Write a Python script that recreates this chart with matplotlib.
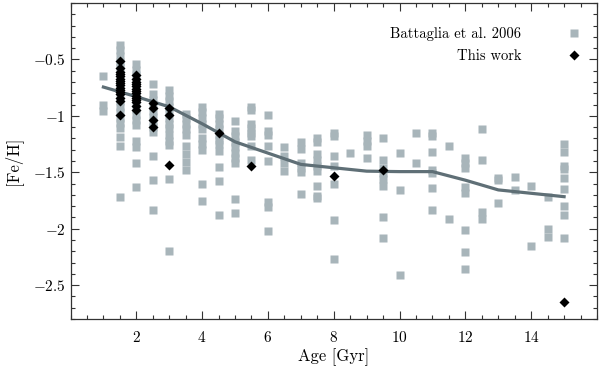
import numpy as np
import matplotlib
matplotlib.use('Agg')
import matplotlib.pyplot as plt
from matplotlib.ticker import MultipleLocator, FuncFormatter

# Battaglia et al. 2006: ages and [Fe/H] values, one list per age
b06_ages = [1.0, 1.5, 2.0, 2.5, 3.0, 3.5, 4.0, 4.5, 5.0, 5.5, 6.0, 6.5, 7.0, 7.5,
            8.0, 8.5, 9.0, 9.5, 10.0, 10.5, 11.0, 11.5, 12.0, 12.5, 13.0, 13.5,
            14.0, 14.5, 15.0]
b06_feh = [
    [-0.65, -0.90, -0.96],
    [-0.37, -0.42, -0.47, -0.52, -0.57, -0.62, -0.67, -0.72, -0.77, -0.82, -0.87,
     -0.92, -0.97, -1.02, -1.06, -1.11, -1.19, -1.27, -1.72],
    [-0.54, -0.59, -0.64, -0.69, -0.74, -0.79, -0.84, -0.89, -0.94, -0.99, -1.04,
     -1.08, -1.22, -1.28, -1.42, -1.63],
    [-0.72, -0.81, -0.86, -0.91, -0.96, -1.01, -1.06, -1.10, -1.14, -1.36, -1.57, -1.83],
    [-0.77, -0.82, -0.87, -0.92, -0.97, -1.02, -1.07, -1.11, -1.17, -1.22, -1.26,
     -1.56, -2.20],
    [-0.98, -1.02, -1.07, -1.12, -1.17, -1.27, -1.34, -1.41, -1.48],
    [-0.92, -0.97, -1.02, -1.07, -1.12, -1.20, -1.25, -1.30, -1.60, -1.75],
    [-0.98, -1.02, -1.07, -1.12, -1.17, -1.21, -1.25, -1.31, -1.45, -1.58, -1.88],
    [-1.05, -1.13, -1.18, -1.23, -1.28, -1.33, -1.37, -1.42, -1.74, -1.86],
    [-0.92, -0.95, -1.07, -1.11, -1.15, -1.18, -1.27, -1.39],
    [-0.99, -1.13, -1.17, -1.27, -1.40, -1.76, -1.81, -2.02],
    [-1.28, -1.36, -1.42, -1.49],
    [-1.23, -1.29, -1.42, -1.46, -1.50, -1.69],
    [-1.20, -1.23, -1.34, -1.39, -1.44, -1.49, -1.62, -1.71, -1.73],
    [-1.15, -1.18, -1.36, -1.44, -1.60, -1.92, -2.27],
    [-1.33],
    [-1.17, -1.22, -1.27, -1.37],
    [-1.20, -1.39, -1.46, -1.51, -1.56, -1.62, -1.90, -2.08],
    [-1.33, -1.66, -2.41],
    [-1.15, -1.42],
    [-1.15, -1.18, -1.32, -1.48, -1.51, -1.64, -1.83],
    [-1.27, -1.91],
    [-1.37, -1.42, -1.46, -1.63, -1.68, -2.01, -2.21, -2.36],
    [-1.12, -1.39, -1.85, -1.91],
    [-1.55, -1.57, -1.77],
    [-1.54, -1.66],
    [-1.62, -2.15],
    [-1.72, -2.00, -2.07],
    [-1.25, -1.32, -1.44, -1.47, -1.55, -1.65, -1.80, -1.88, -2.08],
]

# This work
tw_ages = [1.5] * 16 + [2.0] * 14 + [2.5] * 4 + [3.0] * 3 + [4.5, 5.5, 8.0, 9.5, 15.0]
tw_feh = [-0.51, -0.58, -0.61, -0.63, -0.65, -0.67, -0.69, -0.71, -0.73, -0.75,
          -0.77, -0.79, -0.81, -0.84, -0.87, -0.99,
          -0.64, -0.67, -0.70, -0.72, -0.74, -0.76, -0.78, -0.80, -0.82, -0.84,
          -0.86, -0.88, -0.91, -0.95,
          -0.89, -0.93, -1.04, -1.10,
          -0.93, -0.99, -1.435,
          -1.15, -1.44, -1.53, -1.48, -2.65]

# mean relation
mean_age = [1, 2, 3, 4, 5, 6, 7, 8, 9, 10, 11, 12, 13, 14, 15]
mean_feh = [-0.745, -0.83, -0.92, -1.07, -1.23, -1.33, -1.43, -1.46, -1.49,
            -1.494, -1.494, -1.57, -1.656, -1.686, -1.716]

xticks = [2, 4, 6, 8, 10, 12, 14]
yticks = [-0.5, -1.0, -1.5, -2.0, -2.5]

plt.rcParams['font.family'] = 'serif'
plt.rcParams['font.serif'] = ['cmr10']
plt.rcParams['mathtext.fontset'] = 'cm'

x_b06 = np.concatenate([[a] * len(v) for a, v in zip(b06_ages, b06_feh)])
y_b06 = np.concatenate(b06_feh)

fig = plt.figure(figsize=(6, 3.68), dpi=100)
ax = fig.add_axes([0.1175, 0.133, 0.8775, 0.859])

gray = '#a8b5ba'
ax.plot(x_b06, y_b06, 's', ms=5.2, color=gray, mec='none', zorder=1,
        label='Battaglia et al. 2006')
ax.plot(mean_age, mean_feh, '-', lw=2.3, color='#5f6f76', solid_joinstyle='round',
        zorder=2)
ax.plot(tw_ages, tw_feh, 'D', ms=4.8, color='black', mec='none', zorder=3,
        label='This work')

ax.set_xlim(0, 16)
ax.set_ylim(-2.8, 0)
ax.set_xticks(xticks)
ax.set_yticks(yticks)
ax.xaxis.set_minor_locator(MultipleLocator(0.5))
ax.yaxis.set_minor_locator(MultipleLocator(0.1))
fmt = FuncFormatter(lambda v, p: '$%g$' % v)
ax.xaxis.set_major_formatter(fmt)
ax.yaxis.set_major_formatter(fmt)
ax.tick_params(which='both', direction='in', top=True, right=True,
               width=0.8, labelsize=11, color='#333333')
ax.tick_params(which='major', length=6)
ax.tick_params(which='minor', length=3)
ax.tick_params(axis='x', pad=8)
for s in ax.spines.values():
    s.set_linewidth(0.9)
    s.set_color('#333333')

ax.set_xlabel('Age [Gyr]', fontsize=12, labelpad=2)
ax.set_ylabel('[Fe/H]', fontsize=12, labelpad=8)

ax.legend(loc='upper right', bbox_to_anchor=(1.0, 0.95), frameon=False,
          markerfirst=False, numpoints=1, fontsize=10.5, handletextpad=2.6,
          labelspacing=0.55, borderaxespad=0.2)

fig.savefig('out.png', dpi=100)
